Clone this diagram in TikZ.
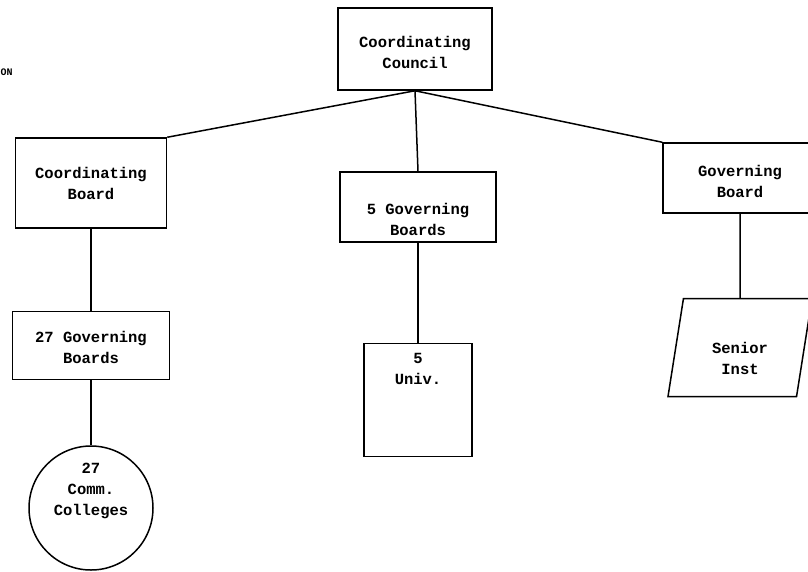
\documentclass[tikz,border=0pt]{standalone}
\usepackage{fontspec}
\newfontfamily\typewriter{Liberation Mono}
\usetikzlibrary{positioning}
\usetikzlibrary{shapes.geometric}

\begin{document}
\begin{tikzpicture}[
    x=1pt, y=-1pt,
    node distance=80pt and 80pt,
    every node/.style={font=\typewriter\bfseries\fontsize{15.5}{21}\selectfont},
    board/.style={draw,line width=1.5pt,align=center,inner sep=0pt},
    inst/.style={draw,line width=1.5pt,align=center,inner sep=0pt},
    link/.style={line width=1.5pt}
    ]

    \useasboundingbox (0,0) rectangle (808,571);
    \clip (0,0) rectangle (808,571);

    \node[anchor=west,font=\typewriter\bfseries\fontsize{10}{12}\selectfont] (cut) at (-3,72) {ON};

    \node[board,minimum width=154pt,minimum height=82pt,text height=42pt,text depth=4pt] (council) at (415,49) {Coordinating\\Council};

    \node[board,minimum width=151pt,minimum height=90pt,text height=36pt,text depth=4pt] (cboard) at (91,183) {Coordinating\\Board};
    \node[board,minimum width=157pt,minimum height=68pt,text height=40pt,text depth=4pt,below=82pt of cboard] (gb27) {27 Governing\\Boards};
    \node[inst,circle,minimum size=124pt,text height=50pt,text depth=36pt,below=65pt of gb27] (cc27) {27\\Comm.\\Colleges};

    \node[board,minimum width=156pt,minimum height=70pt,text height=60pt,text depth=4pt] (gb5) at (418,207) {5 Governing\\Boards};
    \node[inst,minimum width=108pt,text height=41pt,text depth=72pt,below=100pt of gb5] (univ) {5\\Univ.};

    \node[board,minimum width=154pt,minimum height=70pt,text height=42pt,text depth=4pt] (gboard) at (740,178) {Governing\\Board};
    \node[inst,trapezium,trapezium left angle=76,trapezium right angle=104,
          trapezium stretches body,minimum width=144pt,minimum height=98pt,
          text height=58pt,text depth=4pt,below=84pt of gboard] (senior) {Senior\\Inst};

    \path (council.south) edge[link] (cboard.north east)
    (council.south) edge[link] (gb5.north)
    (council.south) edge[link] (gboard.north west)

    (cboard) edge[link] (gb27)
    (gb27) edge[link] (cc27)
    (gb5) edge[link] (univ)
    (gboard) edge[link] (senior)
    ;
  \end{tikzpicture}
\end{document}
